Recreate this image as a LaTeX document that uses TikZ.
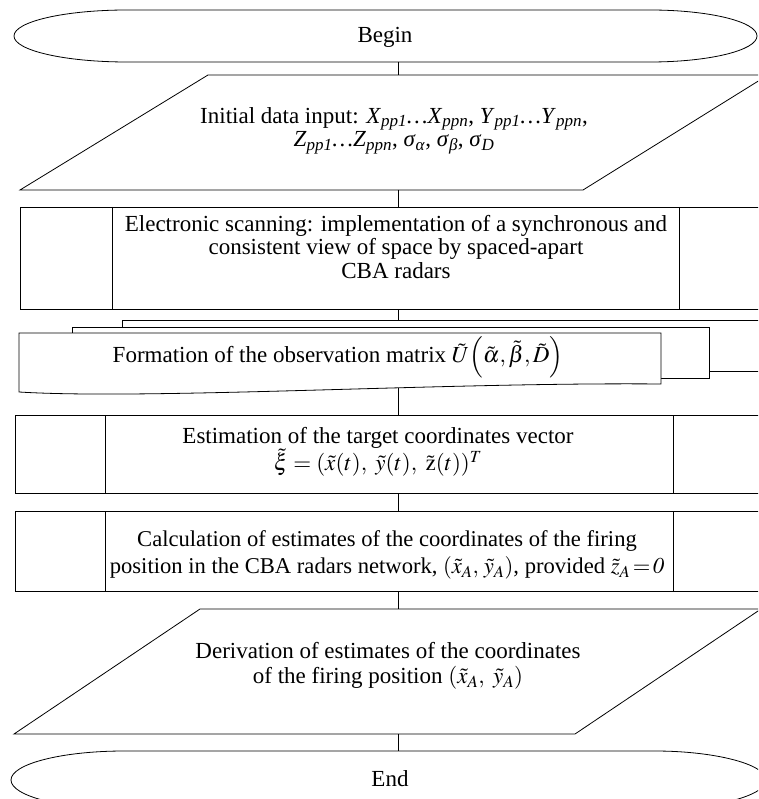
\documentclass[tikz,border=0pt]{standalone}
\usepackage{mathptmx}
\usepackage[no-math]{fontspec}
\setmainfont{Liberation Serif}
\newcommand\vsub[2]{\textit{#1}\textsubscript{\textit{#2}}}
\begin{document}
\begin{tikzpicture}[x=1pt,y=-1pt,line width=0.8pt,
  txt/.style={font=\fontsize{23}{23.5}\selectfont, align=center, inner sep=0pt},
  txtw/.style={font=\fontsize{23}{27.5}\selectfont, align=center, inner sep=0pt},
  shp/.style={draw=black, fill=white},
  conn/.style={draw=black}]
\useasboundingbox (0,0) rectangle (758,799);
\clip (0,0) rectangle (758,799);

% Begin terminator
\draw[shp] (127,10) -- (650,10) .. controls (709,10) and (757,21.6) .. (757,36)
  .. controls (757,50.4) and (709,62) .. (650,62) -- (127,62)
  .. controls (64.6,62) and (14,50.4) .. (14,36)
  .. controls (14,21.6) and (64.6,10) .. (127,10) -- cycle;
\node[txt] (begin) at (385,37) {Begin};
\coordinate (begin-s) at (398,62);

% Input parallelogram
\draw[shp] (208,75) -- (768,75) -- (583,190) -- (20,190) -- cycle;
\node[txt] (input) at (394,131) {Initial data input: \vsub{X}{pp1}\textit{…X}\textsubscript{\textit{ppn}}, \vsub{Y}{pp1}\textit{…Y}\textsubscript{\textit{ppn}},\\
\vsub{Z}{pp1}\textit{…Z}\textsubscript{\textit{ppn}}, \vsub{σ}{α}, \vsub{σ}{β}, \vsub{σ}{D}};
\coordinate (input-n) at (398,75);
\coordinate (input-s) at (398,190);

% Scanning predefined process
\draw[shp] (20,207) rectangle (790,309);
\draw (112,207) -- (112,309) (679,207) -- (679,309);
\node[txt] (scan) at (396,247) {Electronic scanning: implementation of a synchronous and\\
consistent view of space by spaced-apart\\ CBA radars};
\coordinate (scan-n) at (398,207);
\coordinate (scan-s) at (398,309);

% Multi-document
\draw[shp] (122,320) rectangle (800,371);
\draw[shp] (72,327) rectangle (709,378);
\draw[shp] (19,333) -- (661,333) -- (661,384)
  .. controls (450,382) and (150,400) .. (19,392) -- cycle;
\node[txt] (form) at (338,357) {Formation of the observation matrix $\tilde{U}\!\left(\tilde{\alpha},\tilde{\beta},\tilde{D}\right)$};
\coordinate (form-n) at (398,320);
\coordinate (form-s) at (398,388);

% Estimation
\draw[shp] (15,415) rectangle (790,493);
\draw (105,415) -- (105,493) (673,415) -- (673,493);
\node[txtw] (est) at (378,452) {Estimation of the target coordinates vector\\
$\tilde{\xi} = (\tilde{x}(t),\ \tilde{y}(t),\ \tilde{\mathrm{z}}(t))^{T}$};
\coordinate (est-n) at (398,415);
\coordinate (est-s) at (398,493);

% Calculation
\draw[shp] (15,511) rectangle (790,591);
\draw (105,511) -- (105,591) (673,511) -- (673,591);
\node[txtw, font=\fontsize{22.6}{27.5}\selectfont] (calc) at (387,555) {Calculation of estimates of the coordinates of the firing\\
position in the CBA radars network, $(\tilde{x}_{A},\,\tilde{y}_{A})$, provided $\tilde{z}_{A}\!=\!\mathit{0}$};
\coordinate (calc-n) at (398,511);
\coordinate (calc-s) at (398,591);

% Output parallelogram
\draw[shp] (200,609) -- (761,609) -- (575,734) -- (14,734) -- cycle;
\node[txt, font=\fontsize{23}{25}\selectfont] (out) at (388,666) {Derivation of estimates of the coordinates\\
of the firing position $(\tilde{x}_{A},\ \tilde{y}_{A})$};
\coordinate (out-n) at (398,609);
\coordinate (out-s) at (398,734);

% End terminator
\draw[shp] (124,751) -- (655,751) .. controls (714,751) and (766,764) .. (766,780)
  .. controls (766,796) and (714,809) .. (655,809) -- (124,809)
  .. controls (61.6,809) and (11,796) .. (11,780)
  .. controls (11,764) and (61.6,751) .. (124,751) -- cycle;
\node[txt] (end) at (390,779) {End};
\coordinate (end-n) at (398,751);

% Connectors
\draw[conn] (begin-s) -- (input-n);
\draw[conn] (input-s) -- (scan-n);
\draw[conn] (scan-s) -- (form-n);
\draw[conn] (form-s) -- (est-n);
\draw[conn] (est-s) -- (calc-n);
\draw[conn] (calc-s) -- (out-n);
\draw[conn] (out-s) -- (end-n);
\end{tikzpicture}
\end{document}
